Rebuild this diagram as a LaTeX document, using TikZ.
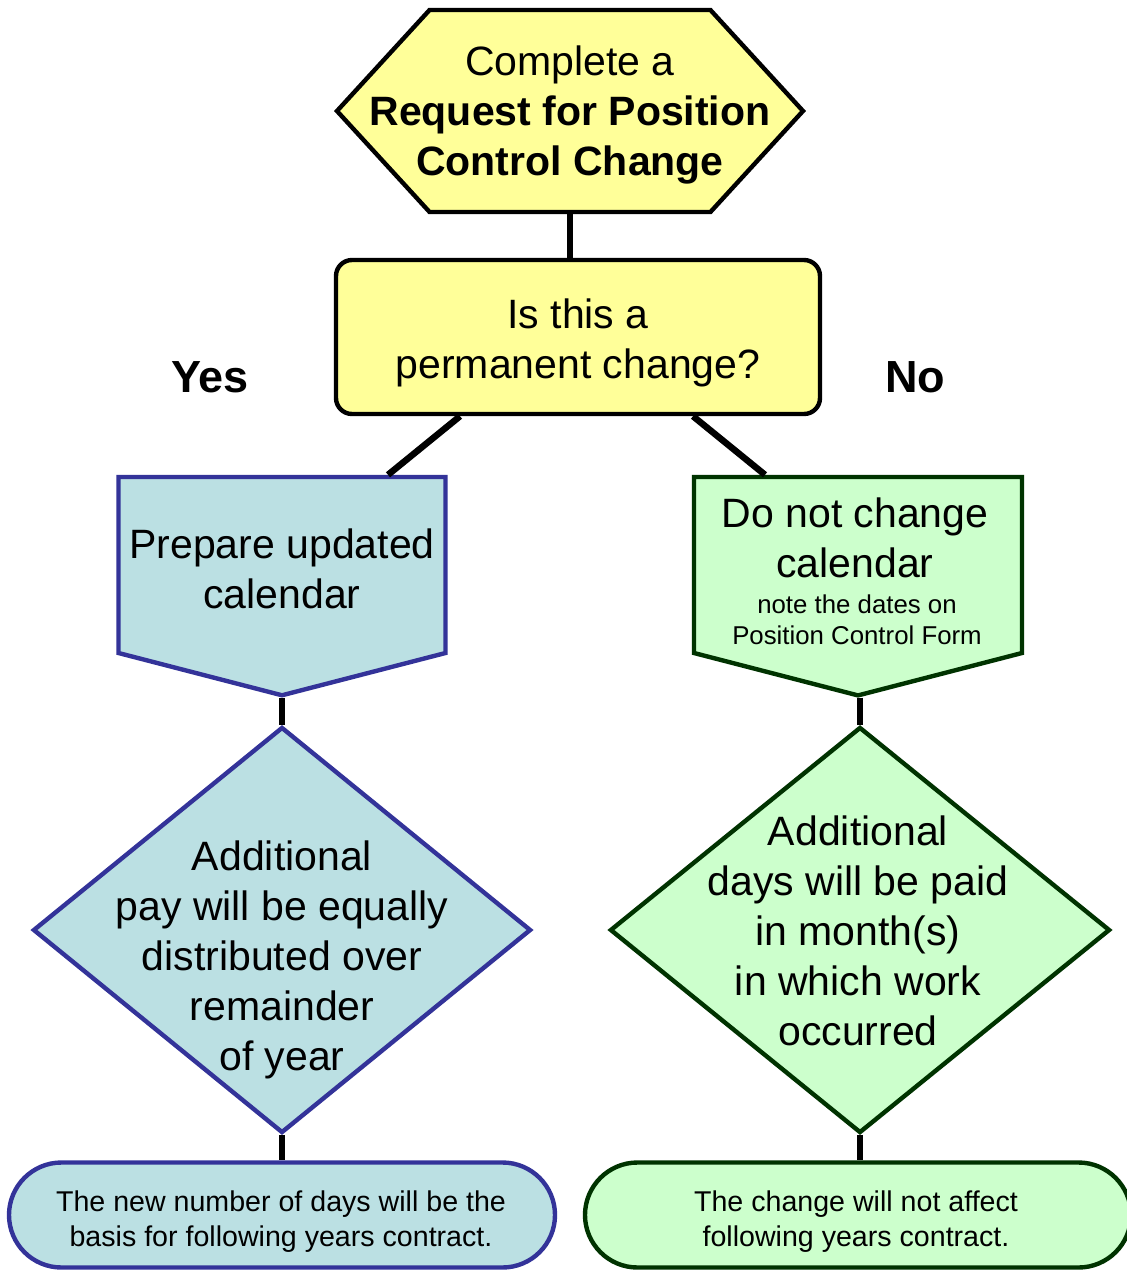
\documentclass[tikz,border=0pt]{standalone}
\usepackage{fontspec}
\setmainfont{Liberation Sans}
\usepackage{tikz}
\usetikzlibrary{shapes.geometric, shapes.symbols, shapes.misc}
\usepackage{xcolor}

\definecolor{padyellow}{HTML}{FFFF99}
\definecolor{padcyan}{HTML}{BBE0E3}
\definecolor{padblue}{HTML}{333399}
\definecolor{padmint}{HTML}{CCFFCC}
\definecolor{padgreen}{HTML}{003300}
\newcommand{\bigtxt}{\fontsize{20.5pt}{25pt}\selectfont}
\newcommand{\smalltxt}{\fontsize{14.3pt}{17.5pt}\selectfont}

\begin{document}
\begin{tikzpicture}[x=0.5pt,y=-0.5pt,
    every node/.style={align=center, inner sep=0pt},
    link/.style={line width=3.25pt},
    txt/.style={font=\bigtxt},
    yellowbox/.style={draw, line width=2.2pt, fill=padyellow},
    bluebox/.style={draw=padblue, line width=2.2pt, fill=padcyan},
    greenbox/.style={draw=padgreen, line width=2.2pt, fill=padmint}]
    \useasboundingbox (0,0) rectangle (1127,1270);

    % start and question
    \node[yellowbox, signal, signal to=west and east, signal pointer angle=95,
          minimum width=233pt, minimum height=101pt] (start) at (570,111) {};
    \node[txt] (start-t) at (570,115) {Complete a\\\textbf{Request for Position}\\\textbf{Control Change}};
    \node[yellowbox, rounded corners=8pt, minimum width=242pt, minimum height=77pt] (ask) at (578,337) {};
    \node[txt] (ask-t) at (578,343) {Is this a\\permanent change?};
    \node[font=\fontsize{22.5pt}{27pt}\selectfont\bfseries] (yes) at (210,377) {Yes};
    \node[font=\fontsize{22.5pt}{27pt}\selectfont\bfseries] (no) at (915,377) {No};

    % yes branch
    \node[bluebox, signal, signal to=south, signal pointer angle=151,
          minimum width=163.5pt, minimum height=88pt] (prep) at (282,565) {};
    \node[txt] (prep-t) at (282,569) {Prepare updated\\calendar};
    \node[bluebox, diamond, minimum width=249pt, minimum height=203pt] (yesd) at (282,930) {};
    \node[txt] (yesd-t) at (282,960) {Additional\\pay will be equally\\distributed over\\remainder\\of year};
    \node[bluebox, rounded rectangle, minimum width=273pt, minimum height=52.5pt] (yesend) at (282,1215) {};
    \node[font=\smalltxt] (yesend-t) at (281,1222) {The new number of days will be the\\basis for following years contract.};

    % no branch
    \node[greenbox, signal, signal to=south, signal pointer angle=151,
          minimum width=164pt, minimum height=88pt] (keep) at (858,565) {};
    \node[txt] (keep-t) at (855,538) {Do not change\\calendar};
    \node[font=\fontsize{12.9pt}{15.5pt}\selectfont] (keep-n) at (857,620) {note the dates on\\Position Control Form};
    \node[greenbox, diamond, minimum width=250pt, minimum height=203pt] (nod) at (860,930) {};
    \node[txt] (nod-t) at (858,931) {Additional\\days will be paid\\in month(s)\\in which work\\occurred};
    \node[greenbox, rounded rectangle, minimum width=273pt, minimum height=52.5pt] (noend) at (858,1215) {};
    \node[font=\smalltxt] (noend-t) at (856,1222) {The change will not affect\\following years contract.};

    % connectors
    \draw[link] (start.south) -- (start.south |- ask.north);
    \draw[link] ([xshift=-59pt]ask.south) -- ([xshift=53pt]prep.north);
    \draw[link] ([xshift=57.5pt]ask.south) -- ([xshift=-46.5pt]keep.north);
    \draw[link] (prep.south) -- (yesd.north);
    \draw[link] (nod.north |- keep.south) -- (nod.north);
    \draw[link] (yesd.south) -- (yesend.north);
    \draw[link] (nod.south) -- (nod.south |- noend.north);
\end{tikzpicture}
\end{document}
